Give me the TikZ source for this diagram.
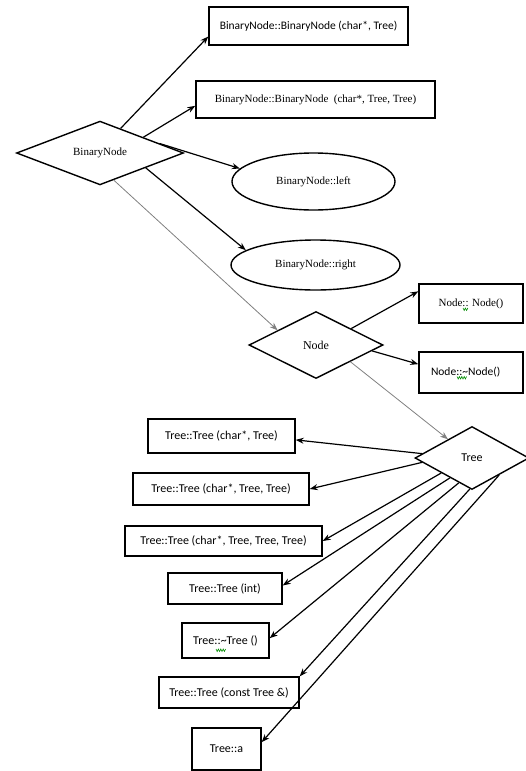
\documentclass[tikz,border=0pt]{standalone}
\usepackage{fontspec}
\setmainfont{Liberation Serif}
\newfontfamily\carlitofont{Carlito}
\usetikzlibrary{shapes.geometric,arrows.meta}
\tikzset{
  box/.style={draw,line width=1.4pt,rectangle,inner sep=0pt,anchor=center},
  ovalbox/.style={draw,line width=1.4pt,ellipse,inner sep=0pt,anchor=center},
  dia/.style={draw,line width=1.4pt,diamond,inner sep=0pt,anchor=center},
  serif/.style={font=\fontsize{11}{13}\selectfont},
  sans/.style={font=\carlitofont\fontsize{12}{14}\selectfont},
  sanssmall/.style={font=\carlitofont\fontsize{11.5}{13}\selectfont},
  arr/.style={line width=1.2pt,-{Stealth[length=8pt,width=6pt]}},
  garr/.style={line width=0.8pt,gray,-{Stealth[length=8pt,width=6pt]}},
  squig/.style={green!55!black,line width=0.6pt}
}
\begin{document}
\begin{tikzpicture}[x=1pt,y=-1pt]
\useasboundingbox (0,0) rectangle (525,771);
% BinaryNode part
\node[dia,serif,minimum width=167pt,minimum height=62pt] (bn) at (100,153) {BinaryNode};
\node[box,sanssmall,minimum width=199pt,minimum height=38pt] (b1) at (308.5,26) {BinaryNode::BinaryNode (char*, Tree)};
\node[box,serif,minimum width=239pt,minimum height=37pt] (b2) at (315.5,99.5) {BinaryNode::BinaryNode\ \ (char*, Tree, Tree)};
\node[ovalbox,serif,minimum width=163pt,minimum height=57pt] (el) at (313.5,181.5) {BinaryNode::left};
\node[ovalbox,serif,minimum width=169pt,minimum height=50pt] (er) at (315.5,265) {BinaryNode::right};
% Node part
\node[dia,font=\fontsize{12}{14}\selectfont,minimum width=134pt,minimum height=67pt] (nd) at (316,345) {Node};
\node[box,serif,minimum width=104pt,minimum height=39pt] (n1) at (471,303.5) {Node:: Node()};
\node[box,sanssmall,minimum width=104pt,minimum height=41pt,text width=80pt,align=left] (n2) at (471,372.5) {Node::\textasciitilde Node()};
% Tree part
\node[dia,sans,minimum width=114pt,minimum height=63pt] (td) at (472,458) {Tree};
\node[box,sans,minimum width=147pt,minimum height=34pt] (t1) at (221.5,436) {Tree::Tree (char*, Tree)};
\node[box,sans,minimum width=176pt,minimum height=32pt] (t2) at (221,489) {Tree::Tree (char*, Tree, Tree)};
\node[box,sans,minimum width=197pt,minimum height=30pt] (t3) at (223.5,541) {Tree::Tree (char*, Tree, Tree, Tree)};
\node[box,sans,minimum width=114pt,minimum height=31pt] (t4) at (225,588.5) {Tree::Tree (int)};
\node[box,sans,minimum width=87pt,minimum height=35pt] (t5) at (225.5,640.5) {Tree::\textasciitilde Tree ()};
\node[box,sans,minimum width=140pt,minimum height=31pt] (t6) at (229,692.5) {Tree::Tree (const Tree \&)};
\node[box,sans,minimum width=69pt,minimum height=42pt] (t7) at (226.5,749) {Tree::a};
% connectors
\draw[arr] (bn.50) -- (b1.186);
\draw[arr] (bn.20) -- (b2.183.6);
\draw[arr] (bn.9) -- (el.170);
\draw[arr] (bn.-18) -- (er.168);
\draw[garr] (bn.-63) -- (nd.159);
\draw[arr] (nd.25) -- (n1.167.5);
\draw[arr] (nd.-6) -- (n2.171);
\draw[garr] (nd.-26) -- (td.142);
\draw[arr] (td.175) -- (t1.-3);
\draw[arr] (td.185) -- (t2.east);
\draw[arr] (td.206) -- (t3.east);
\draw[arr] (td.222) -- (t4.3.5);
\draw[arr] (td.242) -- (t5.3);
\draw[arr] (td.266) -- (t6.north east);
\draw[arr] (td.328) -- (t7.11);
% spell-check squiggles
\draw[squig] (463,308) -- ++(1.2,2.5) -- ++(1.2,-2.5) -- ++(1.2,2.5) -- ++(1.2,-2.5);
\draw[squig] (457,376.5) -- ++(1.2,2.5) -- ++(1.2,-2.5) -- ++(1.2,2.5) -- ++(1.2,-2.5) -- ++(1.2,2.5) -- ++(1.2,-2.5) -- ++(1.2,2.5) -- ++(1.2,-2.5);
\draw[squig] (216,649) -- ++(1.2,2.5) -- ++(1.2,-2.5) -- ++(1.2,2.5) -- ++(1.2,-2.5) -- ++(1.2,2.5) -- ++(1.2,-2.5) -- ++(1.2,2.5) -- ++(1.2,-2.5);
\end{tikzpicture}
\end{document}
